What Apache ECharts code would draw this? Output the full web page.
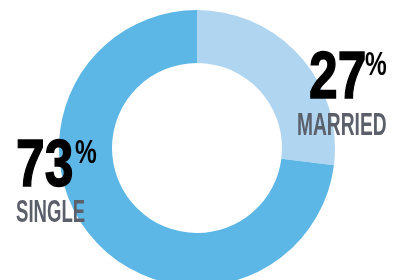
<!DOCTYPE html>
<html>
<head>
<meta charset="utf-8">
<script src="https://cdn.jsdelivr.net/npm/echarts@6/dist/echarts.min.js"></script>
<style>
  html, body { margin: 0; padding: 0; background: #fff; }
  #main { width: 396px; height: 280px; }
</style>
</head>
<body>
<div id="main"></div>
<script>
// data
var categories = ['MARRIED', 'SINGLE'];
var shares = [27, 73];
var colors = ['#b0d5f0', '#5db7e6'];

var chart = echarts.init(document.getElementById('main'), null, { renderer: 'canvas' });

var font = '"Liberation Sans", Arial, sans-serif';

// one text element, squeezed horizontally to look like a condensed face
function txt(s, x, y, size, sx, fill, heavy) {
  return {
    type: 'text',
    x: x,
    y: y,
    scaleX: sx,
    z: 10,
    silent: true,
    style: {
      text: s,
      fontFamily: font,
      fontWeight: 'bold',
      fontSize: size,
      fill: fill,
      stroke: heavy ? fill : null,
      lineWidth: heavy ? 1.5 : 0,
      align: 'left',
      verticalAlign: 'top'
    }
  };
}

// [numberX, capTop, categoryX, categoryTop, pctX, categoryScale]
var labelPos = [
  [309, 52, 297, 115, 365, 0.60],
  [16, 140, 16, 202, 75, 0.58]
];

var graphics = [];
categories.forEach(function (c, i) {
  var p = labelPos[i];
  graphics.push(txt(String(shares[i]), p[0], p[1] - 6, 67, 0.77, '#000', true));
  graphics.push(txt('%', p[4], p[1] - 3, 34, 0.72, '#000', false));
  graphics.push(txt(c, p[2], p[3] - 4.5, 32, p[5], '#5b5f69', false));
});

var option = {
  animation: false,
  series: [{
    type: 'pie',
    center: [197, 148],
    radius: [85, 138],
    startAngle: 90,
    clockwise: true,
    silent: true,
    label: { show: false },
    labelLine: { show: false },
    itemStyle: { borderWidth: 0 },
    data: categories.map(function (c, i) {
      return { name: c, value: shares[i], itemStyle: { color: colors[i] } };
    })
  }],
  graphic: { elements: graphics }
};

chart.setOption(option);
</script>
</body>
</html>
